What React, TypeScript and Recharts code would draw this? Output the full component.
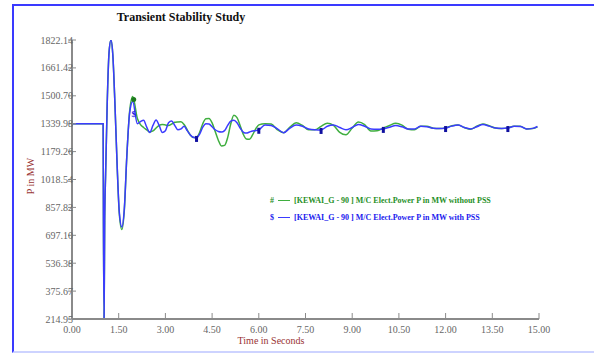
import React from "react";
import { LineChart, Line, XAxis, YAxis, Label } from "recharts";

// time in seconds
const time = [
  0, 0.99, 1.0, 1.01, 1.03, 1.05, 1.08, 1.13, 1.19, 1.25, 1.31, 1.38, 1.45, 1.52, 1.6, 1.68, 1.76, 1.85, 1.95,
  2.1, 2.2, 2.3, 2.4, 2.5, 2.6, 2.7, 2.8, 2.9, 3.0, 3.1, 3.2, 3.3, 3.4, 3.5, 3.6, 3.7, 3.8, 3.9, 4.0,
  4.1, 4.2, 4.3, 4.4, 4.5, 4.6, 4.7, 4.8, 4.9, 5.0, 5.1, 5.2, 5.3, 5.4, 5.5, 5.6, 5.7, 5.8, 5.9, 6.0,
  6.2, 6.4, 6.6, 6.8, 7.0, 7.2, 7.4, 7.6, 7.8, 8.0, 8.2, 8.4, 8.6, 8.8, 9.0, 9.2, 9.4, 9.6, 9.8, 10.0,
  10.2, 10.4, 10.6, 10.8, 11.0, 11.2, 11.4, 11.6, 11.8, 12.0, 12.2, 12.4, 12.6, 12.8, 13.0, 13.2, 13.4,
  13.6, 13.8, 14.0, 14.2, 14.4, 14.6, 14.8, 14.95,
];

// M/C Elect.Power P in MW without PSS (#)
const powerWithoutPss = [
  1340, 1340, 1340, 760, 215, 780, 1050, 1450, 1750, 1822, 1740, 1450, 1100, 820, 730, 840, 1150, 1410, 1497,
  1370, 1335, 1318, 1305, 1292, 1298, 1315, 1330, 1335, 1333, 1330, 1338, 1348, 1350, 1351, 1335, 1305, 1275, 1260, 1262,
  1290, 1340, 1368, 1370, 1345, 1295, 1245, 1212, 1215, 1260, 1340, 1388, 1375, 1330, 1280, 1252, 1250, 1275, 1310, 1333,
  1340, 1338, 1305, 1288, 1320, 1345, 1330, 1305, 1305, 1325, 1342, 1330, 1290, 1276, 1315, 1350, 1335, 1298, 1300, 1315,
  1330, 1342, 1332, 1308, 1305, 1325, 1325, 1314, 1312, 1316, 1328, 1333, 1318, 1308, 1325, 1338, 1328,
  1315, 1312, 1316, 1326, 1325, 1310, 1312, 1322,
];

// M/C Elect.Power P in MW with PSS ($)
const powerWithPss = [
  1340, 1340, 1340, 760, 215, 780, 1050, 1450, 1750, 1822, 1740, 1450, 1100, 830, 745, 850, 1150, 1400, 1468,
  1340, 1352, 1360, 1320, 1290, 1330, 1362, 1330, 1290, 1300, 1345, 1355, 1330, 1305, 1310, 1325, 1300, 1275, 1262, 1258,
  1280, 1320, 1340, 1338, 1322, 1305, 1295, 1292, 1300, 1330, 1355, 1360, 1345, 1315, 1292, 1286, 1292, 1298, 1300, 1305,
  1333, 1330, 1310, 1288, 1315, 1332, 1325, 1310, 1305, 1304, 1325, 1333, 1318, 1305, 1318, 1335, 1325, 1310, 1308, 1310,
  1320, 1330, 1322, 1310, 1310, 1325, 1323, 1314, 1312, 1315, 1326, 1332, 1318, 1310, 1322, 1336, 1326,
  1315, 1313, 1315, 1325, 1324, 1310, 1313, 1324,
];

const markerTimes = [4, 6, 8, 10, 12, 14];
const symbolTime = 1.95;

const xTicks = [0, 1.5, 3, 4.5, 6, 7.5, 9, 10.5, 12, 13.5, 15];
const yTickLabels = ["214.95", "375.67", "536.38", "697.10", "857.82", "1018.54", "1179.26", "1339.98", "1500.70", "1661.42", "1822.14"];
const yTicks = yTickLabels.map(Number);

const seriesNames = {
  without: "[KEWAI_G  -  90 ] M/C Elect.Power P in MW without PSS",
  with: "[KEWAI_G  -  90 ] M/C Elect.Power P in MW with PSS",
};

const data = time.map((t, i) => ({ t, without: powerWithoutPss[i], with: powerWithPss[i] }));

const FONT = "'Liberation Serif', 'DejaVu Serif', serif";
const GREEN = "#3fae3f";
const BLUE = "#3b3bff";

// tick x arrives as axis x - 8 (tickSize 6 + tickMargin 2)
function YTick(props: any) {
  const { x, y, payload, index } = props;
  return (
    <g>
      <line x1={x + 4} x2={x + 12} y1={y} y2={y} stroke="#8a8a8a" />
      <text x={x + 9} y={y + 3.5} textAnchor="end" fontSize={10} fontFamily={FONT} fill="#666">
        {yTickLabels[index] ?? payload.value}
      </text>
    </g>
  );
}

// tick y arrives as axis y + 8
function XTick(props: any) {
  const { x, y, payload } = props;
  return (
    <g>
      <line x1={x} x2={x} y1={y - 14} y2={y - 8} stroke="#8a8a8a" />
      <text x={x} y={y + 6} textAnchor="middle" fontSize={10} fontFamily={FONT} fill="#666">
        {payload.value.toFixed(2)}
      </text>
    </g>
  );
}

function blueDot(props: any) {
  const { cx, cy, payload, index } = props;
  if (markerTimes.includes(payload.t)) {
    return <rect key={`b${index}`} x={cx - 1.5} y={cy - 2} width={3} height={6} fill="#1010a0" />;
  }
  if (payload.t === symbolTime) {
    return (
      <text key={`b${index}`} x={cx + 1} y={cy + 16} textAnchor="middle" fontSize={9} fontWeight="bold" fontFamily={FONT} fill="#2020e0">
        $
      </text>
    );
  }
  return <g key={`b${index}`} />;
}

function greenDot(props: any) {
  const { cx, cy, payload, index } = props;
  if (payload.t === symbolTime) {
    return <circle key={`g${index}`} cx={cx + 1} cy={cy + 3} r={2.5} fill="#1d7a1d" />;
  }
  return <g key={`g${index}`} />;
}

function LegendBox() {
  const rows = [
    { sym: "#", color: "#1f8f1f", line: GREEN, text: seriesNames.without },
    { sym: "$", color: "#2020ee", line: BLUE, text: seriesNames.with },
  ];
  return (
    <div style={{ fontFamily: FONT, fontSize: 8, fontWeight: "bold", lineHeight: "17px" }}>
      {rows.map((r) => (
        <div key={r.sym} style={{ color: r.color, whiteSpace: "nowrap", display: "flex", alignItems: "center" }}>
          <span style={{ width: 8 }}>{r.sym}</span>
          <span style={{ display: "inline-block", width: 12, borderTop: `1px solid ${r.line}`, marginRight: 4 }} />
          <span>{r.text}</span>
        </div>
      ))}
    </div>
  );
}

export default function App() {
  return (
    <div style={{ position: "absolute", left: 0, top: 0, width: 594, height: 353, background: "#fff", overflow: "hidden" }}>
      <div
        style={{
          position: "absolute",
          left: 12,
          top: 4,
          width: 600,
          height: 345,
          borderTop: "2px solid #3a3aff",
          borderLeft: "2px solid #3a3aff",
          borderBottom: "2px solid #cdd3ff",
        }}
      />
      <div
        style={{
          position: "absolute",
          left: 0,
          width: 362,
          top: 10,
          textAlign: "center",
          fontFamily: FONT,
          fontWeight: "bold",
          fontSize: 12,
          color: "#111",
        }}
      >
        Transient Stability Study
      </div>
      <div style={{ position: "absolute", left: 0, top: 0 }}>
        <LineChart width={594} height={353} data={data} margin={{ top: 40, right: 55, bottom: 4, left: 0 }}>
          <XAxis
            dataKey="t"
            type="number"
            domain={[0, 15]}
            ticks={xTicks}
            interval={0}
            height={30}
            stroke="#8a8a8a"
            strokeWidth={2}
            tickLine={false}
            tick={<XTick />}
          >
            <Label
              content={() => (
                <text x={271} y={344} textAnchor="middle" fontSize={10} fontFamily={FONT} fill="#993333">
                  Time in Seconds
                </text>
              )}
            />
          </XAxis>
          <YAxis
            type="number"
            domain={[214.95, 1822.14]}
            ticks={yTicks}
            interval={0}
            allowDataOverflow
            width={72}
            stroke="#8a8a8a"
            strokeWidth={2}
            tickLine={false}
            tick={<YTick />}
          >
            <Label
              content={() => (
                <text x={34} y={176} transform="rotate(-90 34 176)" textAnchor="middle" fontSize={10} fontFamily={FONT} fill="#993333">
                  P in MW
                </text>
              )}
            />
          </YAxis>
          <Line
            dataKey="without"
            type="monotone"
            stroke={GREEN}
            strokeWidth={1.5}
            dot={greenDot}
            activeDot={false}
            isAnimationActive={false}
          />
          <Line
            dataKey="with"
            type="monotone"
            stroke={BLUE}
            strokeWidth={1.5}
            dot={blueDot}
            activeDot={false}
            isAnimationActive={false}
          />
        </LineChart>
      </div>
      <div style={{ position: "absolute", left: 270, top: 192 }}>
        <LegendBox />
      </div>
    </div>
  );
}
